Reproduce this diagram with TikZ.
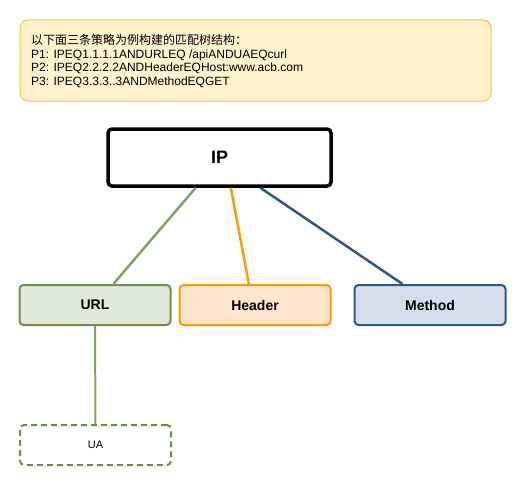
\documentclass[tikz,border=0pt]{standalone}
\usepackage{fontspec}
\setmainfont{Liberation Sans}
\newfontfamily\cjk{Noto Sans CJK SC}
\usetikzlibrary{positioning, calc}
\definecolor{notefill}{HTML}{FFF2CC}
\definecolor{notedraw}{HTML}{F4C542}
\definecolor{urldraw}{HTML}{6B8E4E}
\definecolor{urlfill}{HTML}{E1E8DA}
\definecolor{urlline}{HTML}{82A262}
\definecolor{hdrdraw}{HTML}{FF9A00}
\definecolor{hdrfill}{HTML}{FFE6CC}
\definecolor{mthdraw}{HTML}{2B5798}
\definecolor{mthfill}{HTML}{D4DDE9}

\begin{document}
\begin{tikzpicture}[x=1pt,y=1pt]
    \tikzstyle{rootbox}=[draw,line width=3.5pt,rounded corners=4pt,minimum width=223pt,minimum height=57pt,inner sep=0pt,font=\fontsize{18}{20}\selectfont\bfseries]
    \tikzstyle{keybox}=[draw,line width=2pt,rounded corners=4pt,minimum width=151pt,minimum height=40pt,inner sep=0pt,font=\fontsize{14}{16}\selectfont\bfseries]
    \tikzstyle{link}=[line width=2.5pt]

    \useasboundingbox (0,0) rectangle (529,-487);

    % note on top
    \node[draw=notedraw,fill=notefill,line width=1pt,rounded corners=8pt,minimum width=471pt,minimum height=81pt] (note) at (255.5,-60.5) {};
    \node[anchor=west,align=left,inner sep=0pt,font=\fontsize{12}{13.7}\selectfont] (notetext) at (31,-61)
      {{\cjk 以下面三条策略为例构建的匹配树结构：}\\
       P1: IPEQ1.1.1.1ANDURLEQ /apiANDUAEQcurl\\
       P2: IPEQ2.2.2.2ANDHeaderEQHost:www.acb.com\\
       P3: IPEQ3.3.3..3ANDMethodEQGET};

    % tree
    \node[rootbox] (IP) at (219.5,-157.5) {IP};
    \node[keybox,draw=urldraw,fill=urlfill] (URL) at (95,-305) {URL};
    \node[keybox,draw=hdrdraw,fill=hdrfill] (Header) at (255,-305) {Header};
    \node[keybox,draw=mthdraw,fill=mthfill] (Method) at (430,-305) {Method};
    \node[keybox,draw=urldraw,dash pattern=on 6pt off 4pt,font=\fontsize{11}{13}\selectfont] (UA) at (95.5,-445) {UA};

    \draw[link,urlline] ($(IP.south west)!0.395!(IP.south east)$) -- ($(URL.north west)!0.62!(URL.north east)$);
    \draw[link,hdrdraw] ($(IP.south west)!0.55!(IP.south east)$) -- ($(Header.north west)!0.46!(Header.north east)$);
    \draw[link,mthdraw] ($(IP.south west)!0.68!(IP.south east)$) -- ($(Method.north west)!0.32!(Method.north east)$);
    \draw[line width=2pt,urlline] (URL) -- (UA);

\end{tikzpicture}
\end{document}
